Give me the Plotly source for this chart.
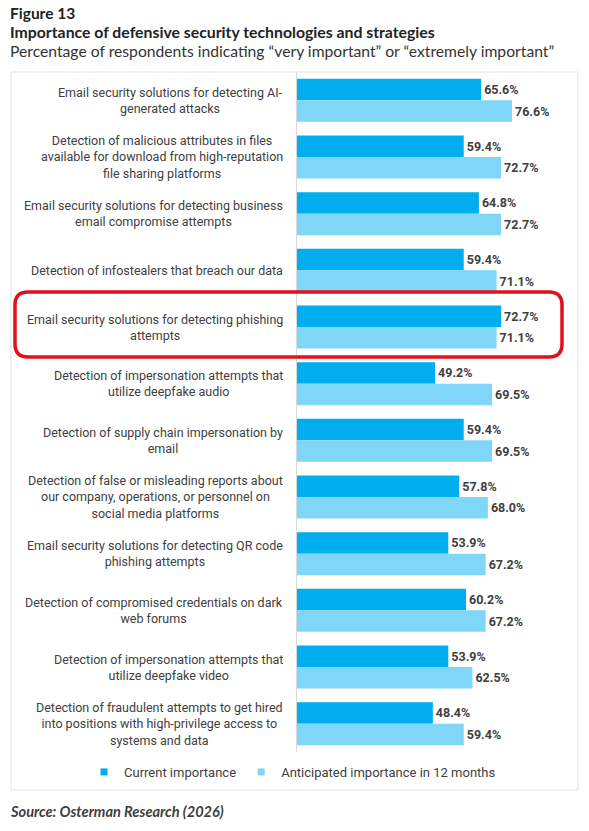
import plotly.graph_objects as go

categories = [
    "Email security solutions for detecting AI-<br>generated attacks",
    "Detection of malicious attributes in files<br>available for download from high-reputation<br>file sharing platforms",
    "Email security solutions for detecting business<br>email compromise attempts",
    "Detection of infostealers that breach our data",
    "Email security solutions for detecting phishing<br>attempts",
    "Detection of impersonation attempts that<br>utilize deepfake audio",
    "Detection of supply chain impersonation by<br>email",
    "Detection of false or misleading reports about<br>our company, operations, or personnel on<br>social media platforms",
    "Email security solutions for detecting QR code<br>phishing attempts",
    "Detection of compromised credentials on dark<br>web forums",
    "Detection of impersonation attempts that<br>utilize deepfake video",
    "Detection of fraudulent attempts to get hired<br>into positions with high-privilege access to<br>systems and data",
]
current = [65.6, 59.4, 64.8, 59.4, 72.7, 49.2, 59.4, 57.8, 53.9, 60.2, 53.9, 48.4]
anticipated = [76.6, 72.7, 72.7, 71.1, 71.1, 69.5, 69.5, 68.0, 67.2, 67.2, 62.5, 59.4]
series_names = ["Current importance", "Anticipated importance in 12 months"]

title_fig = "Figure 13"
title_main = "Importance of defensive security technologies and strategies"
title_sub = "Percentage of respondents indicating \u201cvery important\u201d or \u201cextremely important\u201d"
source = "Source: Osterman Research (2026)"

W, H = 589, 831
L, R, T, B = 297, 11, 72, 79
PW, PH = W - L - R, H - T - B

DARK = "#00AEEF"
LIGHT = "#7FD6F6"
TXT = "#404040"
LBL_FONT = "Roboto, Liberation Sans, sans-serif"
TTL_FONT = "Lato, Noto Sans, sans-serif"


def px_x(X):
    return (X - L) / PW


def px_y(Y):
    return (T + PH - Y) / PH


fig = go.Figure()
for name, vals, col in [(series_names[0], current, DARK), (series_names[1], anticipated, LIGHT)]:
    fig.add_trace(go.Bar(
        y=categories, x=vals, orientation="h", name=name,
        marker=dict(color=col, line=dict(width=0)),
        text=[f"{v:.1f}%" for v in vals], textposition="outside",
        textfont=dict(family=LBL_FONT, size=12.5, color=TXT, weight="bold"),
        cliponaxis=False, showlegend=False, hoverinfo="x+y",
    ))
    fig.add_trace(go.Scatter(
        x=[None], y=[None], mode="markers", name=name,
        marker=dict(symbol="square", size=7, color=col),
    ))

annotations = []
for c in categories:
    annotations.append(dict(
        xref="paper", yref="y", x=px_x(285), y=c, xanchor="right", yanchor="middle",
        text=c, align="center", showarrow=False,
        font=dict(family=LBL_FONT, size=12.5, color=TXT),
    ))
annotations += [
    dict(xref="paper", yref="paper", x=px_x(8), y=px_y(13), xanchor="left", yanchor="middle",
         text="<b>" + title_fig + "</b>", showarrow=False,
         font=dict(family=TTL_FONT, size=15.5, color="#222222")),
    dict(xref="paper", yref="paper", x=px_x(8), y=px_y(32), xanchor="left", yanchor="middle",
         text="<b>" + title_main + "</b>", showarrow=False,
         font=dict(family=TTL_FONT, size=15.8, color="#222222")),
    dict(xref="paper", yref="paper", x=px_x(8), y=px_y(51), xanchor="left", yanchor="middle",
         text=title_sub, showarrow=False,
         font=dict(family=TTL_FONT, size=15.7, color="#333333")),
    dict(xref="paper", yref="paper", x=px_x(8), y=px_y(812), xanchor="left", yanchor="middle",
         text="<b><i>" + source + "</i></b>", showarrow=False,
         font=dict(family=TTL_FONT, size=14.6, color=TXT)),
]

# highlight rounded rectangle
x0, x1, y0, y1, r = 15, 562, 292, 357, 13
rx, ry = r / PW, r / PH
X0, X1, Y0, Y1 = px_x(x0), px_x(x1), px_y(y1), px_y(y0)
path = (f"M{X0+rx},{Y1} L{X1-rx},{Y1} Q{X1},{Y1} {X1},{Y1-ry} "
        f"L{X1},{Y0+ry} Q{X1},{Y0} {X1-rx},{Y0} L{X0+rx},{Y0} "
        f"Q{X0},{Y0} {X0},{Y0+ry} L{X0},{Y1-ry} Q{X0},{Y1} {X0+rx},{Y1} Z")

shapes = [
    dict(type="rect", xref="paper", yref="paper", x0=px_x(11), x1=px_x(578),
         y0=px_y(790), y1=px_y(72), line=dict(color="#e3e3e3", width=1), layer="below"),
    dict(type="path", xref="paper", yref="paper", path=path,
         line=dict(color="#E3101B", width=3.5)),
]

fig.update_layout(
    width=W, height=H, margin=dict(l=L, r=R, t=T, b=B, autoexpand=False),
    paper_bgcolor="white", plot_bgcolor="white",
    barmode="group", bargap=0.24, bargroupgap=0,
    annotations=annotations, shapes=shapes,
    legend=dict(orientation="h", xref="paper", x=px_x(84), xanchor="left",
                yref="paper", y=px_y(772), yanchor="middle",
                font=dict(family=LBL_FONT, size=13, color=TXT),
                itemwidth=30, tracegroupgap=0, bgcolor="rgba(0,0,0,0)"),
    xaxis=dict(range=[0, PW / 2.807], showgrid=False, zeroline=False, showticklabels=False,
               showline=False, fixedrange=True),
    yaxis=dict(autorange="reversed", showticklabels=False, showgrid=False, zeroline=False,
               showline=True, linecolor="#d9d9d9", linewidth=1, ticks="", fixedrange=True),
    showlegend=True,
)

fig.write_html("out.html", config={"displayModeBar": False},
               post_script="document.body.style.margin='0';")
